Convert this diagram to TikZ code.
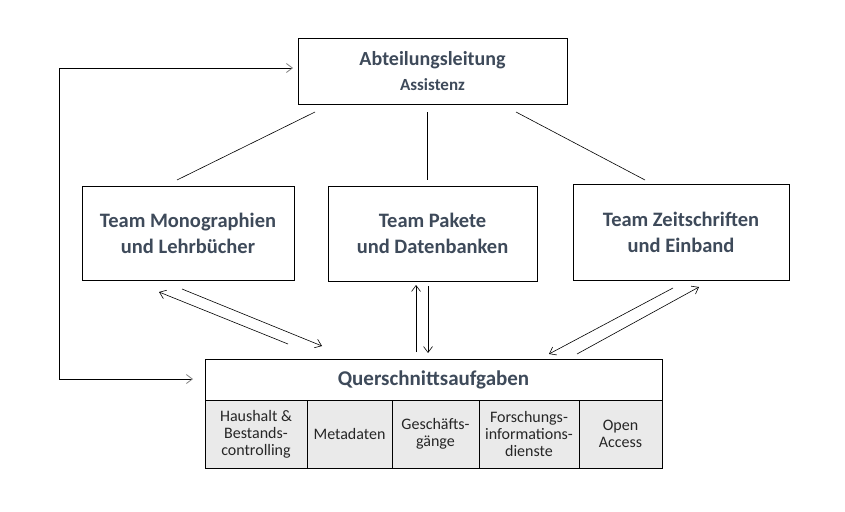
\documentclass[tikz,border=0pt]{standalone}
\usepackage{fontspec}
\setmainfont{Carlito}
\usetikzlibrary{arrows.meta}
\definecolor{txt}{RGB}{62,74,90}
\definecolor{cellbg}{RGB}{234,234,234}
\begin{document}
\begin{tikzpicture}[x=1pt,y=-1pt,
  box/.style={draw=black, line width=0.8pt, fill=white, inner sep=0pt, text=txt, align=center},
  big/.style={font=\fontsize{20.5}{26}\selectfont\bfseries},
  cell/.style={draw=black, line width=0.8pt, fill=cellbg, inner sep=0pt, text=black!85, align=center, font=\fontsize{16}{17}\selectfont},
  arr/.style={line width=0.6pt, -{Straight Barb[length=6pt,width=9pt]}},
  conn/.style={line width=0.6pt}]
\useasboundingbox (0,0) rectangle (845,511);
\fill[white] (0,0) rectangle (845,511);
% top box
\node[box, minimum width=269pt, minimum height=66pt, font=\fontsize{20}{25}\selectfont\bfseries] (top) at (432.5,71)
  {Abteilungsleitung\\{\fontsize{17}{25}\selectfont Assistenz}};
% team boxes
\node[box, big, minimum width=212pt, minimum height=94pt] (mono) at (188,233)
  {Team Monographien\\und Lehrbücher};
\node[box, big, minimum width=209pt, minimum height=95pt] (pak) at (432.5,233.5)
  {Team Pakete\\und Datenbanken};
\node[box, big, minimum width=216pt, minimum height=96pt] (zeit) at (681,232)
  {Team Zeitschriften\\und Einband};
% Querschnitt
\node[box, minimum width=457pt, minimum height=41pt, font=\fontsize{21}{24}\selectfont\bfseries] (quer) at (433.5,379.5)
  {Querschnittsaufgaben};
\node[cell, minimum width=102pt, minimum height=68pt] (c1) at (256,434)
  {Haushalt \&\\Bestands-\\controlling};
\node[cell, minimum width=85pt, minimum height=68pt] (c2) at (349.5,434) {Metadaten};
\node[cell, minimum width=87pt, minimum height=68pt] (c3) at (435.5,434) {Geschäfts-\\gänge};
\node[cell, minimum width=100pt, minimum height=68pt] (c4) at (529,434) {Forschungs-\\informations-\\dienste};
\node[cell, minimum width=83pt, minimum height=68pt] (c5) at (620.5,434) {Open\\Access};
% connector endpoints
\coordinate (t1) at (315,112); \coordinate (m1) at (177,180);
\coordinate (t2) at (427,112); \coordinate (p1) at (427,180);
\coordinate (t3) at (516,112); \coordinate (z1) at (645,180);
\draw[conn] (t1) -- (m1);
\draw[conn] (t2) -- (p1);
\draw[conn] (t3) -- (z1);
% two-way arrows
\coordinate (a1s) at (182,289); \coordinate (a1e) at (322,346);
\coordinate (a2s) at (288,344); \coordinate (a2e) at (159,292);
\draw[arr] (a1s) -- (a1e);
\draw[arr] (a2s) -- (a2e);
\coordinate (b1s) at (416,352); \coordinate (b1e) at (416,285);
\coordinate (b2s) at (428,286); \coordinate (b2e) at (428,353);
\draw[arr] (b1s) -- (b1e);
\draw[arr] (b2s) -- (b2e);
\coordinate (d1s) at (673,288); \coordinate (d1e) at (549,354);
\coordinate (d2s) at (577,354); \coordinate (d2e) at (699,287);
\draw[arr] (d1s) -- (d1e);
\draw[arr] (d2s) -- (d2e);
% feedback loop
\coordinate (f1) at (193,379); \coordinate (f2) at (293,68);
\draw[line width=0.8pt, {Straight Barb[length=6pt,width=9pt,color=gray]}-{Straight Barb[length=6pt,width=9pt,color=gray]}]
  (f1) -- (59,379) -- (59,68) -- (f2);
\end{tikzpicture}
\end{document}
